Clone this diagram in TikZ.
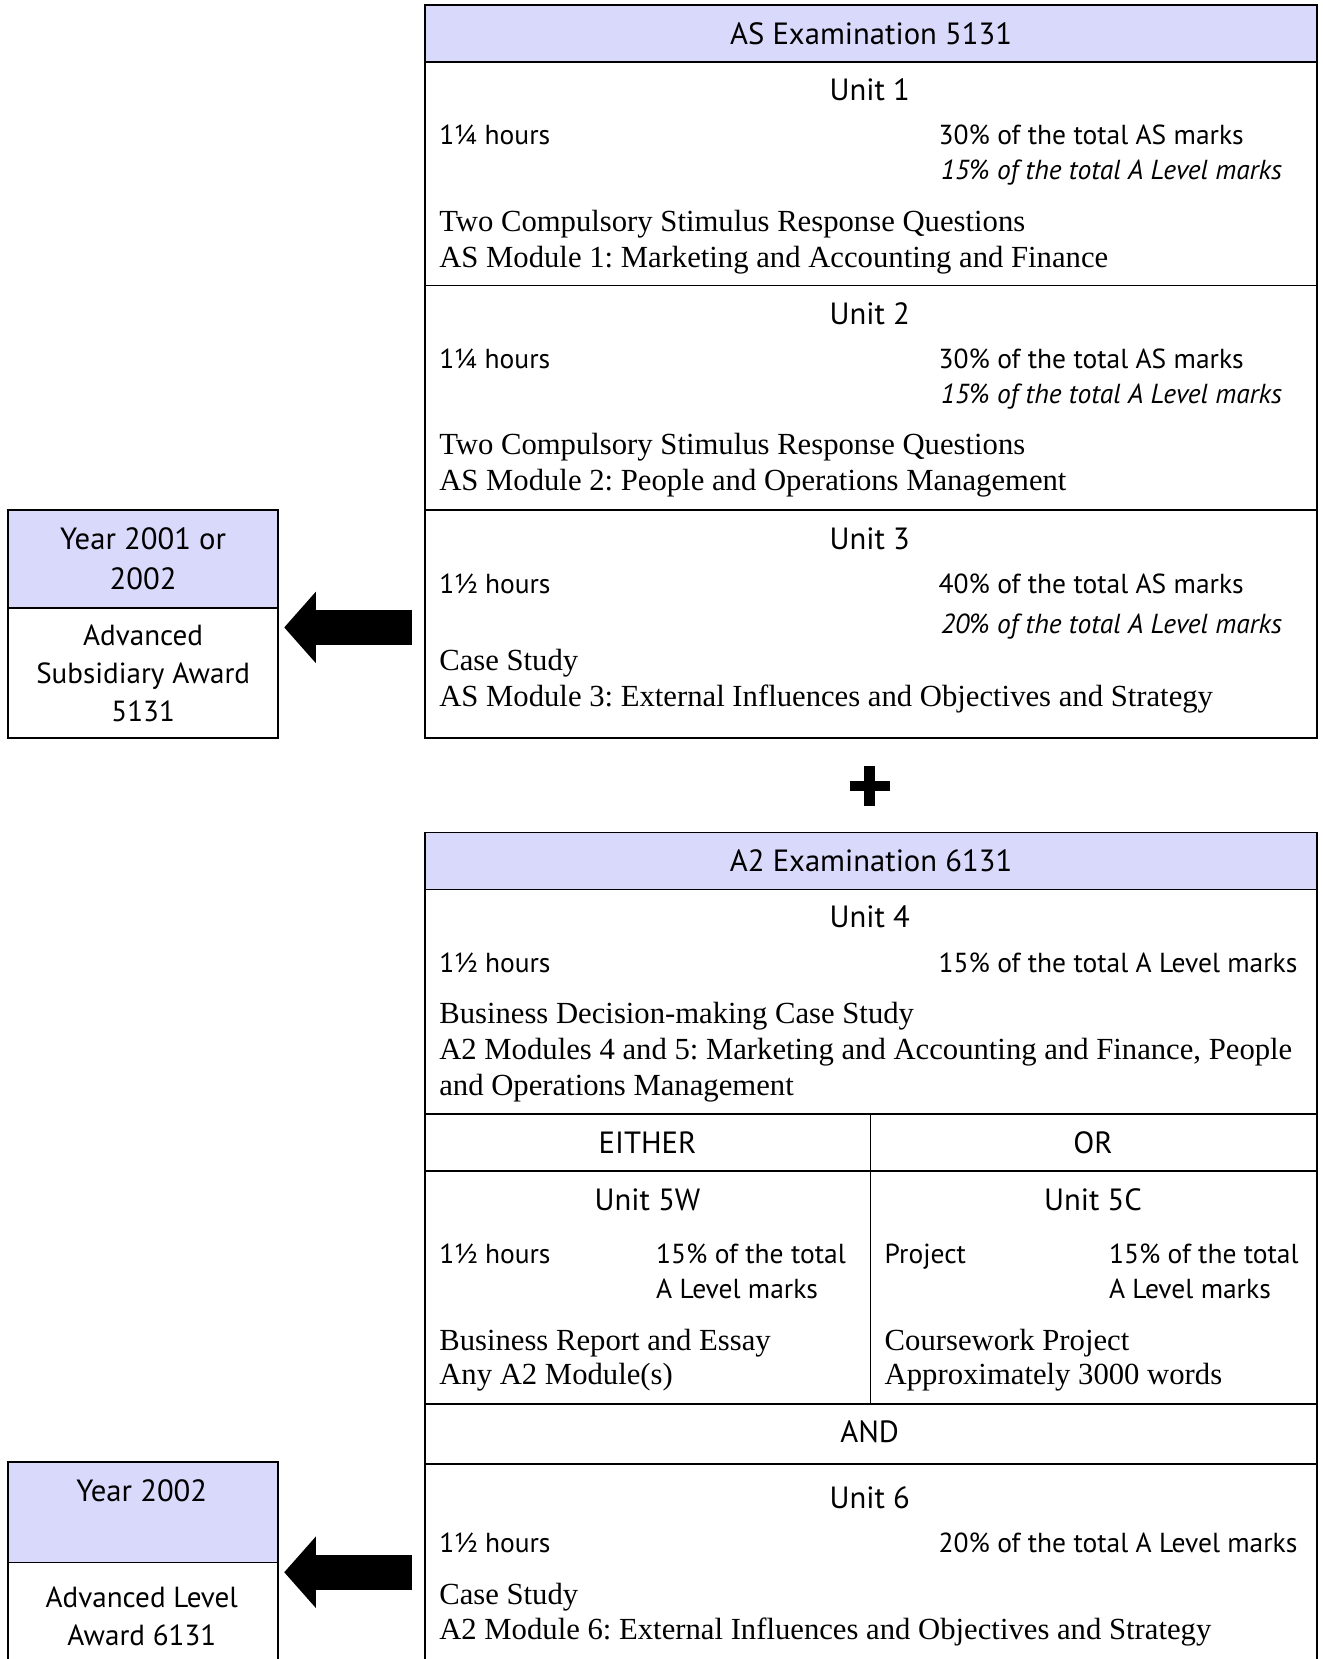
\documentclass[tikz,border=0pt]{standalone}
\usepackage{fontspec}
\setmainfont{Liberation Serif}
\setsansfont{PT Sans}
\usetikzlibrary{arrows.meta,positioning}
\definecolor{headblue}{RGB}{217,217,251}
\newcommand{\sanstext}{\fontsize{26}{30}\selectfont\sffamily}
\newcommand{\headtext}{\fontsize{29}{34}\selectfont\sffamily}
\newcommand{\serftext}{\fontsize{29}{34}\selectfont\rmfamily\frenchspacing}

\begin{document}
\begin{tikzpicture}[x=1pt, y=-1pt,
  box/.style={draw, line width=1.6pt, anchor=north west, inner sep=0pt},
  headbox/.style={box, fill=headblue, font=\headtext},
  ttl/.style={font=\headtext, anchor=base, inner sep=0pt},
  info/.style={font=\sanstext, anchor=base west, inner sep=0pt},
  infoit/.style={font=\sanstext\itshape, anchor=base west, inner sep=0pt},
  desc/.style={font=\serftext, anchor=base west, inner sep=0pt},
  award/.style={align=center, inner sep=0pt},
  bigarrow/.style={line width=33pt, -{Triangle[width=66pt,length=30pt]}}]
	\useasboundingbox (0,0) rectangle (1250,1568);
	\clip (0,0) rectangle (1250,1568);

	% AS examination
	\node (asHead) [headbox, minimum width=843pt, minimum height=54pt] at (401,4) {AS Examination 5131};
	\node (u1) [box, minimum width=843pt, minimum height=211pt] at (401,58) {};
	\node (u2) [box, minimum width=843pt, minimum height=212pt] at (401,269) {};
	\node (u3) [box, minimum width=843pt, minimum height=216pt] at (401,481) {};

	\node (u1Title) [ttl] at (822,95) {Unit 1};
	\node (u1Time) [info] at (415,137) {1¼ hours};
	\node (u1AS) [info] at (887,137) {30\% of the total AS marks};
	\node (u1AL) [infoit] at (889,170) {15\% of the total A Level marks};
	\node (u1Kind) [desc] at (415,219) {Two Compulsory Stimulus Response Questions};
	\node (u1Mod) [desc] at (415,253) {AS Module 1: Marketing and Accounting and Finance};

	\node (u2Title) [ttl] at (822,307) {Unit 2};
	\node (u2Time) [info] at (415,348) {1¼ hours};
	\node (u2AS) [info] at (887,348) {30\% of the total AS marks};
	\node (u2AL) [infoit] at (889,381) {15\% of the total A Level marks};
	\node (u2Kind) [desc] at (415,430) {Two Compulsory Stimulus Response Questions};
	\node (u2Mod) [desc] at (415,464) {AS Module 2: People and Operations Management};

	\node (u3Title) [ttl] at (822,519) {Unit 3};
	\node (u3Time) [info] at (415,561) {1½ hours};
	\node (u3AS) [info] at (887,561) {40\% of the total AS marks};
	\node (u3AL) [infoit] at (889,599) {20\% of the total A Level marks};
	\node (u3Kind) [desc] at (415,634) {Case Study};
	\node (u3Mod) [desc] at (415,668) {AS Module 3: External Influences and Objectives and Strategy};

	% plus sign
	\draw[line width=10pt] (803,743) -- (841,743) (822,724) -- (822,762);

	% A2 examination
	\node (a2Head) [headbox, minimum width=843pt, minimum height=54pt] at (401,786) {A2 Examination 6131};
	\node (u4) [box, minimum width=843pt, minimum height=212pt] at (401,840) {};
	\node (either) [box, minimum width=421pt, minimum height=54pt] at (401,1052) {};
	\node (or) [box, minimum width=422pt, minimum height=54pt] at (822,1052) {};
	\node (u5w) [box, minimum width=421pt, minimum height=220pt] at (401,1106) {};
	\node (u5c) [box, minimum width=422pt, minimum height=220pt] at (822,1106) {};
	\node (and) [box, minimum width=843pt, minimum height=57pt] at (401,1326) {};
	\node (u6) [box, minimum width=843pt, minimum height=240pt] at (401,1383) {};

	\node (u4Title) [ttl] at (822,877) {Unit 4};
	\node (u4Time) [info] at (415,919) {1½ hours};
	\node (u4AL) [info] at (887,919) {15\% of the total A Level marks};
	\node (u4Kind) [desc] at (415,967) {Business Decision-making Case Study};
	\node (u4Mod) [desc] at (415,1001) {A2 Modules 4 and 5: Marketing and Accounting and Finance, People};
	\node (u4Mod2) [desc] at (415,1035) {and Operations Management};

	\node (eitherText) [ttl] at (612,1090) {EITHER};
	\node (orText) [ttl] at (1033,1090) {OR};

	\node (u5wTitle) [ttl] at (612,1144) {Unit 5W};
	\node (u5wTime) [info] at (415,1194) {1½ hours};
	\node (u5wAL) [info] at (620,1194) {15\% of the total};
	\node (u5wAL2) [info] at (620,1227) {A Level marks};
	\node (u5wKind) [desc] at (415,1276) {Business Report and Essay};
	\node (u5wMod) [desc] at (415,1309) {Any A2 Module(s)};

	\node (u5cTitle) [ttl] at (1033,1144) {Unit 5C};
	\node (u5cTime) [info] at (836,1194) {Project};
	\node (u5cAL) [info] at (1048,1194) {15\% of the total};
	\node (u5cAL2) [info] at (1048,1227) {A Level marks};
	\node (u5cKind) [desc] at (836,1276) {Coursework Project};
	\node (u5cMod) [desc] at (836,1309) {Approximately 3000 words};

	\node (andText) [ttl] at (822,1363) {AND};

	\node (u6Title) [ttl] at (822,1426) {Unit 6};
	\node (u6Time) [info] at (415,1467) {1½ hours};
	\node (u6AL) [info] at (887,1467) {20\% of the total A Level marks};
	\node (u6Kind) [desc] at (415,1516) {Case Study};
	\node (u6Mod) [desc] at (415,1550) {A2 Module 6: External Influences and Objectives and Strategy};

	% awards
	\node (yr1) [headbox, award, font=\fontsize{29}{38}\selectfont\sffamily, minimum width=255pt, minimum height=93pt] at (7,481) {Year 2001 or\\2002};
	\node (aw1) [box, award, font=\fontsize{27.5}{36}\selectfont\sffamily, minimum width=255pt, minimum height=123pt] at (7,574) {Advanced\\Subsidiary Award\\5131};
	\node (yr2) [headbox, minimum width=255pt, minimum height=95pt] at (7,1381) {};
	\node (aw2) [box, minimum width=255pt, minimum height=150pt] at (7,1476) {};
	\node (yr2Text) [ttl] at (134,1419) {Year 2002};
	\node (aw2Text) [award, font=\fontsize{27.5}{36}\selectfont\sffamily] at (134,1528) {Advanced Level\\Award 6131};

	% Arrows
	\coordinate (arr1) at (389,593);
	\coordinate (arr2) at (389,1486);
	\draw[bigarrow, shorten >=5pt] (arr1) -- (arr1 -| aw1.east);
	\draw[bigarrow, shorten >=5pt] (arr2) -- (arr2 -| aw2.east);
\end{tikzpicture}
\end{document}
